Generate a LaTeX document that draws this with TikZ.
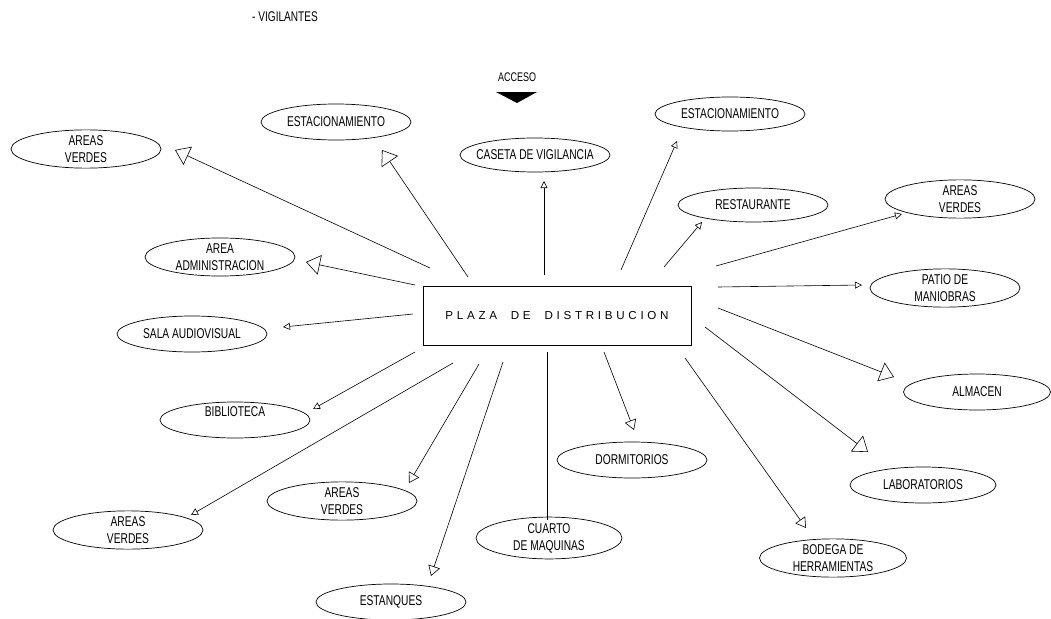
\documentclass[tikz,border=0pt]{standalone}
\usepackage{fontspec}
\setmainfont{Liberation Sans}[FakeStretch=0.72]
\newfontfamily\plazafont{Liberation Sans}[LetterSpace=32]
\usepackage{tikz}
\usetikzlibrary{shapes}
\usetikzlibrary{arrows.meta}

\tikzset{
  zona/.style = {draw, ellipse, line width = 0.7pt, minimum width = 150pt,
                 minimum height = 36pt, inner sep = 0pt, align = center,
                 font = \fontsize{14.2}{17}\selectfont},
  link/.style = {line width = 0.6pt},
  bigtip/.style = {-{Triangle[open, length = 14pt, width = 20pt]}},
  midtip/.style = {-{Triangle[open, length = 10pt, width = 12pt]}},
  smalltip/.style = {-{Triangle[open, length = 7pt, width = 7pt]}}
}

\begin{document}
\begin{tikzpicture}[x = 1pt, y = -1pt]
\useasboundingbox (0, 0) rectangle (1051, 618);
\node[font = \fontsize{14}{17}\selectfont] (vigil) at (285, 17) {- VIGILANTES};
\node[font = \fontsize{12.5}{15}\selectfont] (acceso) at (517, 77) {ACCESO};
\fill (496, 92) -- (537, 92) -- (517, 103) -- cycle;
\draw (557, 316) node[draw, line width = 0.7pt, minimum width = 268pt,
      minimum height = 59pt, inner sep = 0pt] (plaza)
      {\fontsize{11.6}{14}\plazafont PLAZA\ \ DE\ \ DISTRIBUCION};
% zonas de arriba
\draw (86, 149) node[zona] (av1) {AREAS\\VERDES};
\draw (336, 122) node[zona] (est1) {ESTACIONAMIENTO};
\draw (535, 155) node[zona, minimum height = 34pt, inner xsep = -9pt] (caseta) {CASETA DE VIGILANCIA};
\draw (730, 114) node[zona, minimum height = 34pt] (est2) {ESTACIONAMIENTO};
\draw (753, 205) node[zona, minimum height = 34pt] (rest) {RESTAURANTE};
\draw (960, 199) node[zona] (av2) {AREAS\\VERDES};
\draw (220, 257) node[zona] (adm) {AREA\\ADMINISTRACION};
% zonas de los lados
\draw (945, 288) node[zona] (patio) {PATIO DE\\MANIOBRAS};
\draw (192, 334) node[zona] (sala) {SALA AUDIOVISUAL};
\draw (977, 392) node[zona, minimum width = 147pt] (alm) {ALMACEN};
\draw (235, 420) node[zona, inner ysep = -2pt] (bib) {BIBLIOTECA\\ \mbox{}};
\draw (923, 485) node[zona, minimum width = 146pt] (lab) {LABORATORIOS};
% zonas de abajo
\draw (632, 460) node[zona] (dorm) {DORMITORIOS};
\draw (342, 501) node[zona] (av3) {AREAS\\VERDES};
\draw (128, 530) node[zona] (av4) {AREAS\\VERDES};
\draw (549, 538) node[zona, minimum width = 146pt] (cuarto) {CUARTO\\DE MAQUINAS};
\draw (833, 558) node[zona, minimum width = 147pt] (bod) {BODEGA DE\\HERRAMIENTAS};
\draw (391, 602) node[zona] (estanq) {ESTANQUES};
% conexiones
\draw [link, bigtip] ([shift = {(-127, -48)}]plaza.center) -- ([shift = {(89, 1)}]av1.center);
\draw [link, bigtip] ([shift = {(-89, -39)}]plaza.center) -- ([shift = {(46, 28)}]est1.center);
\draw [link, smalltip] ([shift = {(-13, -41)}]plaza.center) -- ([shift = {(9, 26)}]caseta.center);
\draw [link, smalltip] ([shift = {(64, -46)}]plaza.center) -- ([shift = {(-53, 27)}]est2.center);
\draw [link, smalltip] ([shift = {(107, -49)}]plaza.center) -- ([shift = {(-51, 17)}]rest.center);
\draw [link, smalltip] ([shift = {(159, -50)}]plaza.center) -- ([shift = {(-58, 15)}]av2.center);
\draw [link, smalltip] ([shift = {(161, -29)}]plaza.center) -- ([shift = {(-83, -3)}]patio.center);
\draw [link, bigtip] ([shift = {(161, -8)}]plaza.center) -- ([shift = {(-83, -15)}]alm.center);
\draw [link, bigtip] ([shift = {(148, 11)}]plaza.center) -- ([shift = {(-55, -33)}]lab.center);
\draw [link, midtip] ([shift = {(128, 42)}]plaza.center) -- ([shift = {(-27, -30)}]bod.center);
\draw [link, midtip] ([shift = {(47, 36)}]plaza.center) -- ([shift = {(2, -30)}]dorm.center);
\draw [link] ([shift = {(-10, 36)}]plaza.center) -- ([shift = {(-2, -18)}]cuarto.center);
\draw [link, midtip] ([shift = {(-54, 46)}]plaza.center) -- ([shift = {(40, -26)}]estanq.center);
\draw [link, midtip] ([shift = {(-78, 48)}]plaza.center) -- ([shift = {(67, -18)}]av3.center);
\draw [link, smalltip] ([shift = {(-104, 47)}]plaza.center) -- ([shift = {(63, -15)}]av4.center);
\draw [link, smalltip] ([shift = {(-142, 36)}]plaza.center) -- ([shift = {(78, -11)}]bib.center);
\draw [link, smalltip] ([shift = {(-144, -2)}]plaza.center) -- ([shift = {(91, -7)}]sala.center);
\draw [link, bigtip] ([shift = {(-142, -31)}]plaza.center) -- ([shift = {(86, 5)}]adm.center);
\end{tikzpicture}
\end{document}
